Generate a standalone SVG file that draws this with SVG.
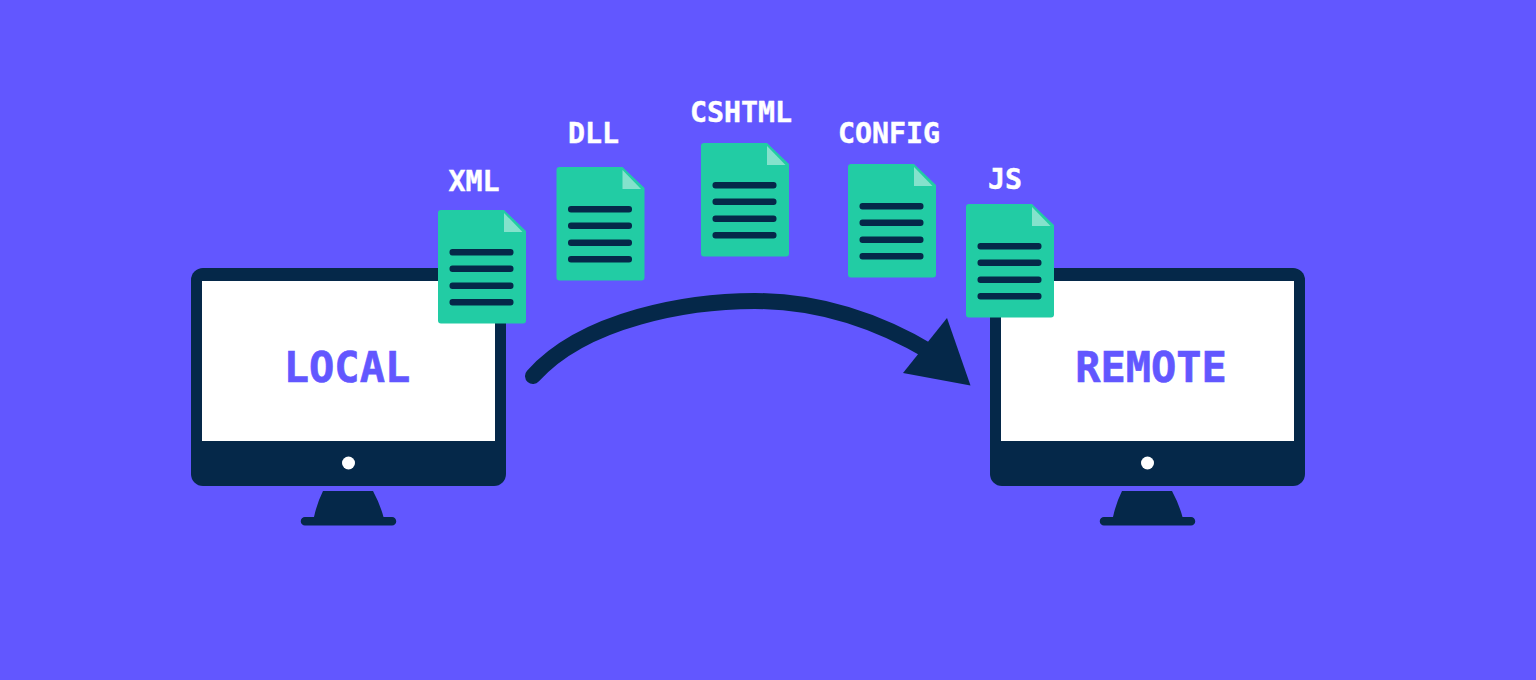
<svg xmlns="http://www.w3.org/2000/svg" width="1536" height="680" viewBox="0 0 1536 680">
<style>
.lbl{font-family:"DejaVu Sans Mono","Liberation Mono",monospace;font-weight:700;text-anchor:middle}
.doc-l{font-size:28.300px;fill:#fff;stroke:#fff;stroke-width:.4}
.mon-l{font-size:42px;fill:#6257ff;stroke:#6257ff;stroke-width:.6}
.dark{fill:#052849}
.ln{fill:#052849}
</style>
<defs>
<g id="monitor">
<rect class="dark" x="0" y="0" width="315" height="218" rx="12"/>
<rect x="11" y="13" width="293" height="160" fill="#fff"/>
<circle cx="157.500" cy="195" r="6.500" fill="#fff"/>
<path class="dark" d="M132 223H182Q189 236 192.500 249H201a4 4 0 0 1 0 8.500H114a4 4 0 0 1 0-8.500H123Q126 235 132 223Z"/>
</g>
<g id="doc">
<path d="M3 0H66L88 21V110.500a3 3 0 0 1-3 3H3a3 3 0 0 1-3-3V3a3 3 0 0 1 3-3Z" fill="#22cca4"/>
<path d="M66 3L84.500 22H66Z" fill="#84e2cc"/>
<rect class="ln" x="11.500" y="39" width="64" height="6.500" rx="3"/>
<rect class="ln" x="11.500" y="55.500" width="64" height="6.500" rx="3"/>
<rect class="ln" x="11.500" y="72.500" width="64" height="6.500" rx="3"/>
<rect class="ln" x="11.500" y="89" width="64" height="6.500" rx="3"/>
</g>
</defs>
<rect width="1536" height="680" fill="#6257ff"/>
<g id="local">
<use href="#monitor" x="191" y="268"/>
<text class="lbl mon-l" x="347" y="382">LOCAL</text>
</g>
<g id="remote">
<use href="#monitor" x="990" y="268"/>
<text class="lbl mon-l" x="1151" y="382">REMOTE</text>
</g>
<g id="connectors">
<path d="M533 376C585 318 690 301 755 301C820 301 880 322 932 353" fill="none" stroke="#052849" stroke-width="16" stroke-linecap="round"/>
<path class="dark" d="M947 318L970.500 385.500L903 373Z"/>
</g>
<g id="xml">
<use href="#doc" x="438" y="210"/>
<text class="lbl doc-l" x="474" y="191">XML</text>
</g>
<g id="dll">
<use href="#doc" x="556.500" y="167"/>
<text class="lbl doc-l" x="593.500" y="143">DLL</text>
</g>
<g id="cshtml">
<use href="#doc" x="701" y="143"/>
<text class="lbl doc-l" x="741" y="122">CSHTML</text>
</g>
<g id="config">
<use href="#doc" x="848" y="164"/>
<text class="lbl doc-l" x="889" y="143">CONFIG</text>
</g>
<g id="js">
<use href="#doc" x="966" y="204"/>
<text class="lbl doc-l" x="1005" y="189">JS</text>
</g>
</svg>
